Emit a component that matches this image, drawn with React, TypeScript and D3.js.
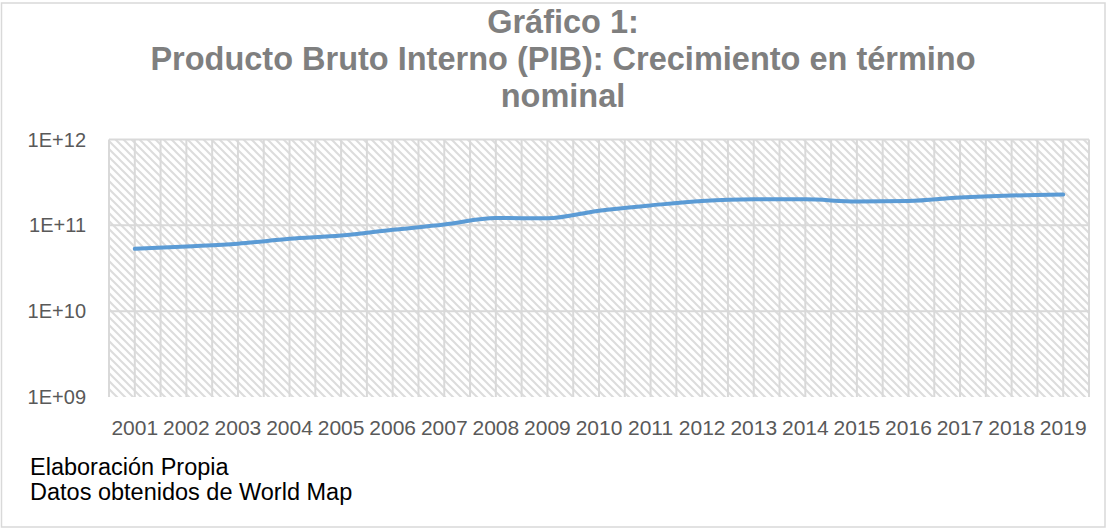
import React from "react";
import * as d3 from "d3";

const years = ["2001","2002","2003","2004","2005","2006","2007","2008","2009","2010","2011","2012","2013","2014","2015","2016","2017","2018","2019"];
const pib = [5.33e10,5.68e10,6.10e10,6.97e10,7.61e10,8.86e10,1.022e11,1.216e11,1.210e11,1.480e11,1.706e11,1.926e11,2.012e11,2.008e11,1.898e11,1.919e11,2.110e11,2.226e11,2.283e11];
const yTicks = [1e9, 1e10, 1e11, 1e12];
const yTickLabels = ["1E+09", "1E+10", "1E+11", "1E+12"];
const titleLines = ["Gráfico 1:", "Producto Bruto Interno (PIB): Crecimiento en término", "nominal"];
const captionLines = ["Elaboración Propia", "Datos obtenidos de World Map"];

const W = 1107, H = 529;
const plot = { left: 109, right: 1089, top: 139.5, bottom: 397 };

export default function App() {
  const x = d3.scaleBand<string>().domain(years).range([plot.left, plot.right]).padding(0);
  const y = d3.scaleLog().domain([1e9, 1e12]).range([plot.bottom, plot.top]);
  const bw = x.bandwidth();
  const vLines: number[] = [];
  years.forEach((yr) => { vLines.push(x(yr)!); vLines.push(x(yr)! + bw / 2); });
  vLines.push(plot.right);
  const line = d3.line<number>().x((_, i) => x(years[i])! + bw / 2).y((d) => y(d)).curve(d3.curveMonotoneX);
  const font = "'Liberation Sans', Arial, sans-serif";
  return (
    <svg width={W} height={H} style={{ position: "absolute", left: 0, top: 0, background: "#fff" }}>
      <defs>
        <pattern id="hatch" patternUnits="userSpaceOnUse" width={8} height={8}>
          <rect width={8} height={8} fill="#fff" />
          <path d="M-2,-2 L10,10 M-2,6 L2,10 M6,-2 L10,2" stroke="#dcdcdc" strokeWidth={2} />
        </pattern>
      </defs>
      <rect x={1.5} y={3} width={1103.5} height={524} fill="#fff" stroke="#d9d9d9" strokeWidth={1.5} />
      <g fontFamily={font} fontWeight="bold" fontSize={32.5} fill="#7f7f7f" textAnchor="middle">
        {titleLines.map((t, i) => (
          <text key={i} x={563} y={33 + i * 37}>{t}</text>
        ))}
      </g>
      <rect x={plot.left} y={plot.top} width={plot.right - plot.left} height={plot.bottom - plot.top} fill="url(#hatch)" />
      {vLines.map((v, i) => (
        <line key={"v" + i} x1={v} x2={v} y1={plot.top} y2={plot.bottom} stroke="#d9d9d9" strokeWidth={2} />
      ))}
      {yTicks.slice(1).map((t) => (
        <line key={"h" + t} x1={plot.left} x2={plot.right} y1={y(t)} y2={y(t)} stroke="#d9d9d9" strokeWidth={2} />
      ))}
      <path d={line(pib) || ""} fill="none" stroke="#5b9bd5" strokeWidth={4} strokeLinecap="round" />
      <g fontFamily={font} fontSize={20} fill="#595959">
        {yTicks.map((t, i) => (
          <text key={t} x={86} y={y(t)} dy="0.35em" textAnchor="end">{yTickLabels[i]}</text>
        ))}
      </g>
      <g fontFamily={font} fontSize={21} fill="#595959">
        {years.map((yr) => (
          <text key={yr} x={x(yr)! + bw / 2} y={435} textAnchor="middle">{yr}</text>
        ))}
      </g>
      <g fontFamily={font} fontSize={23.5} fill="#000">
        {captionLines.map((c, i) => (
          <text key={i} x={30} y={475 + i * 25}>{c}</text>
        ))}
      </g>
    </svg>
  );
}
